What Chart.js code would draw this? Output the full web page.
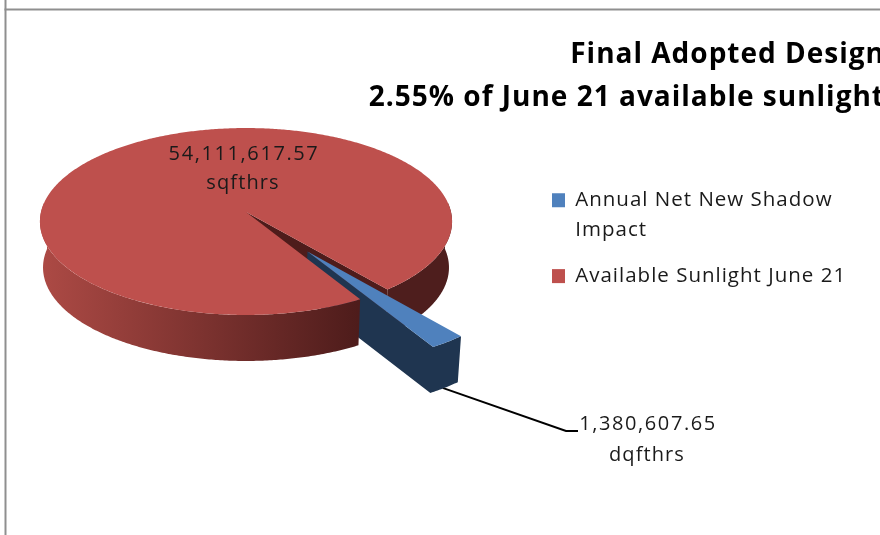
<!DOCTYPE html>
<html>
<head>
<meta charset="utf-8">
<title>Final Adopted Design</title>
<script src="https://cdn.jsdelivr.net/npm/chart.js@4/dist/chart.umd.js"></script>
<style>
  html, body { margin: 0; padding: 0; background: #fff; overflow: hidden; }
  #wrap { width: 880px; height: 535px; }
  #chart { filter: blur(0.35px); }
</style>
</head>
<body>
<div id="wrap"><canvas id="chart" width="880" height="535"></canvas></div>
<script>
const categories = [["Annual Net New Shadow", "Impact"], "Available Sunlight June 21"];
const sqftHours = [1380607.65, 54111617.57];
const units = ["dqfthrs", "sqfthrs"];
const titleLines = ["Final Adopted Design", "2.55% of June 21 available sunlight"];

const fontName = "'Open Sans', Lato, sans-serif";

// rough 3d view of the flat pie: perspective map of the unit disc
const view = { x0: 246, y0: 212, a: 92.5, b: 205, k: 0.1016, depth: 46 };
const explode = [0.5, 0];

function project(u, v, z) {
  const den = 1 - view.k * v;
  const shrink = z ? 0.985 : 1;
  return {
    x: view.x0 + shrink * view.b * u / den,
    y: view.y0 + view.a * v / den + (z ? view.depth : 0)
  };
}

function rimPoints(a1, a2, du, dv, z) {
  const pts = [];
  const n = Math.max(2, Math.ceil(Math.abs(a2 - a1) / 0.01));
  for (let i = 0; i <= n; i++) {
    const a = a1 + (a2 - a1) * i / n;
    pts.push(project(Math.cos(a) + du, Math.sin(a) + dv, z));
  }
  return pts;
}

function fillPoly(ctx, pts, fill) {
  ctx.beginPath();
  pts.forEach((p, i) => (i ? ctx.lineTo(p.x, p.y) : ctx.moveTo(p.x, p.y)));
  ctx.closePath();
  ctx.fillStyle = fill;
  ctx.fill();
}

const pie3d = {
  id: "pie3d",
  beforeDraw(chart) {
    const ctx = chart.ctx;
    ctx.save();
    ctx.fillStyle = "#8f8f8f";
    ctx.fillRect(4.5, 0, 2, 535);
    ctx.fillRect(4.5, 8.5, 876, 2);
    ctx.restore();
    // original text runs wide, title and legend both take this
    ctx.letterSpacing = "1px";
  },
  afterLayout(chart) {
    // title is cut by the right edge like the original, legend sits beside the pie
    chart.titleBlock.right = 885;
    chart.legend.left = 536;
    chart.legend.top = 174;
    chart.legend.right = 880;
    chart.legend.bottom = 535;
  },
  beforeDatasetDraw(chart, args) {
    const ctx = chart.ctx;
    const [blue, red] = args.meta.data;
    const bg = chart.data.datasets[0].backgroundColor;
    const mid = (blue.startAngle + blue.endAngle) / 2;
    const du = Math.cos(mid) * explode[0];
    const dv = Math.sin(mid) * explode[0];

    const wallFill = ctx.createLinearGradient(40, 0, 358, 0);
    wallFill.addColorStop(0, "#ad4a45");
    wallFill.addColorStop(1, "#4e1c1b");

    ctx.save();
    // right part of the rim wall and the cut face seen through the gap
    const back = rimPoints(Math.PI * 2 - 0.1, red.endAngle, 0, 0, false);
    fillPoly(ctx, back.concat(rimPoints(red.endAngle, Math.PI * 2 - 0.1, 0, 0, true)), "#4e1e1d");
    fillPoly(ctx, [
      project(0, 0, false), back[back.length - 1],
      project(Math.cos(red.endAngle), Math.sin(red.endAngle), true), project(0, 0, true)
    ], "#4e1c1b");

    // leader line goes under the exploded slice
    const foot = project(Math.cos(mid) * 1.5, Math.sin(mid) * 1.5, true);
    ctx.beginPath();
    ctx.moveTo(foot.x - 2, foot.y);
    ctx.lineTo(566, 431);
    ctx.lineTo(578, 431);
    ctx.lineWidth = 2;
    ctx.strokeStyle = "#000";
    ctx.stroke();

    // exploded slice: walls as one shape, then top
    const apexTop = project(du, dv, false);
    const apexLow = project(du, dv, true);
    const rimTop = rimPoints(blue.startAngle, blue.endAngle, du, dv, false);
    const rimLow = rimPoints(blue.endAngle, blue.startAngle, du, dv, true);
    fillPoly(ctx, [apexLow].concat(rimLow, rimTop, [apexTop]), "#1f3550");
    fillPoly(ctx, [apexTop].concat(rimTop), bg[0]);

    // front wall then top face of the big slice cover the rest
    const front = rimPoints(red.startAngle, Math.PI + 0.1, 0, 0, false);
    const frontLow = rimPoints(Math.PI + 0.1, red.startAngle, 0, 0, true);
    fillPoly(ctx, front.concat(frontLow), wallFill);
    fillPoly(ctx, [project(0, 0, false)].concat(rimPoints(red.startAngle, red.endAngle, 0, 0, false)), bg[1]);
    ctx.restore();
    return false;
  },
  afterDraw(chart) {
    const ctx = chart.ctx;
    ctx.save();
    ctx.font = "20px " + fontName;
    ctx.fillStyle = "#1a1a1a";
    ctx.textAlign = "center";
    ctx.textBaseline = "middle";
    const fmt = v => v.toLocaleString("en-US", { minimumFractionDigits: 2 });
    ctx.letterSpacing = "1.6px";
    ctx.fillText(fmt(sqftHours[1]), 244, 154);
    ctx.fillText(fmt(sqftHours[0]), 648, 424);
    ctx.letterSpacing = "1.1px";
    ctx.fillText(units[1], 243, 183);
    ctx.fillText(units[0], 647, 455);
    ctx.restore();
    ctx.letterSpacing = "0px";
  }
};

new Chart(document.getElementById("chart"), {
  type: "pie",
  data: {
    labels: categories,
    datasets: [{
      data: sqftHours,
      backgroundColor: ["#4f81bd", "#be504d"],
      borderWidth: 0
    }]
  },
  options: {
    responsive: false,
    animation: false,
    devicePixelRatio: 1,
    rotation: 140.5,
    plugins: {
      tooltip: { enabled: false },
      title: {
        display: true,
        text: titleLines,
        align: "end",
        color: "#000",
        padding: { top: 34, bottom: 0 },
        font: { family: fontName, size: 28, weight: "bold", lineHeight: 1.53 }
      },
      legend: {
        position: "right",
        align: "start",
        labels: {
          boxWidth: 13,
          boxHeight: 14,
          padding: 16,
          color: "#1a1a1a",
          font: { family: fontName, size: 20.5, lineHeight: 1.46 }
        }
      }
    }
  },
  plugins: [pie3d]
});
</script>
</body>
</html>
